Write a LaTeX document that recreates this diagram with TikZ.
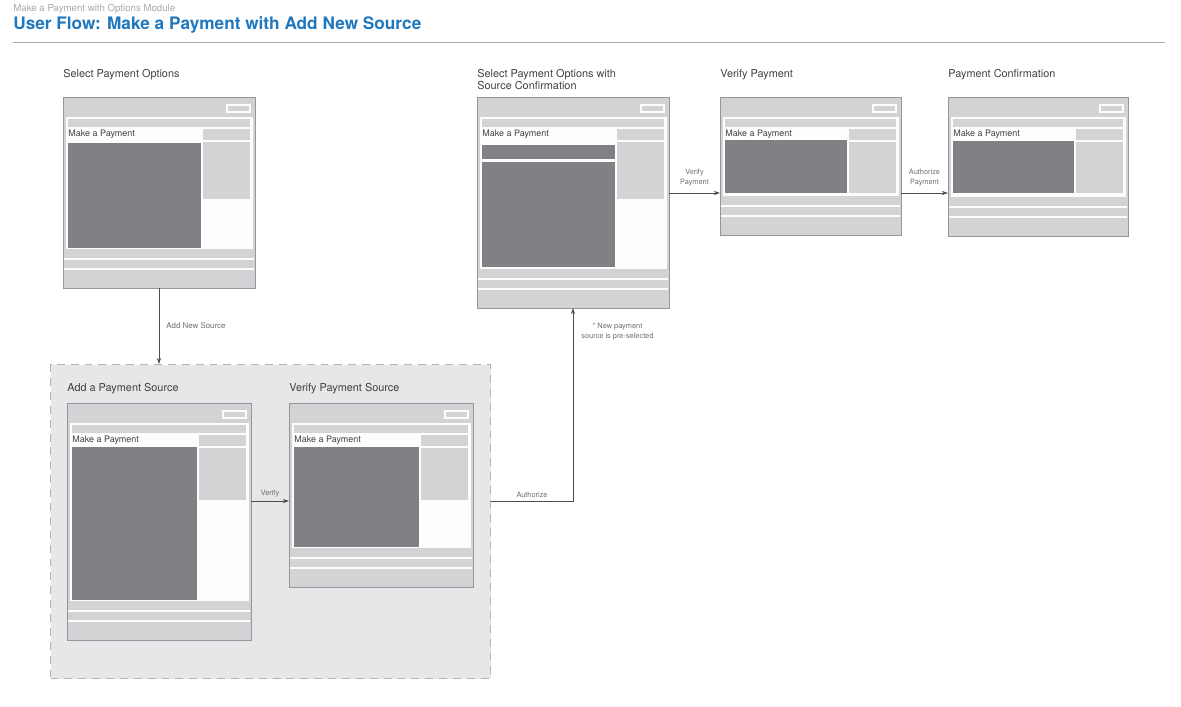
\documentclass[tikz,border=0pt]{standalone}
\usepackage{fontspec}
\setmainfont{TeX Gyre Heros}
\usepackage{tikz}
\usetikzlibrary{positioning,arrows.meta,calc}
\definecolor{flowblue}{HTML}{1F78BE}
\definecolor{headgray}{HTML}{A7A9AC}
\definecolor{rulegray}{HTML}{A6A8AB}
\definecolor{wflight}{HTML}{D1D3D4}
\definecolor{wfdark}{HTML}{808184}
\definecolor{wfwhite}{HTML}{FDFDFD}
\definecolor{wfborder}{HTML}{949699}
\definecolor{wfink}{HTML}{414042}
\definecolor{lblgray}{HTML}{6D6E71}
\definecolor{arrowgray}{HTML}{4D4D4F}
\definecolor{grpfill}{HTML}{E6E7E8}
\definecolor{grpdash}{HTML}{B3B4B6}

% one wireframe screen: name, x, top, width, height, dark top, dark bottom, side bottom
\newcommand{\wireframe}[8]{%
  \node[screen, minimum width=#4*0.02cm, minimum height=#5*0.02cm] (#1) at (#2,#3) {};
  \begin{scope}[shift={(#1.north west)}]
    \fill[wfwhite] (2.5,20) rectangle (#4-2.5,#5-39);
    \fill[wflight] (5,22) rectangle (#4-5,30);
    \draw[wfwhite, line width=0.7pt, fill=wflight] (#4-28,8) rectangle (#4-5,15);
    \node[anchor=west, inner sep=0pt, text=wfink, font=\fontsize{5.1}{6}\selectfont] at (5,37) {Make a Payment};
    \fill[wflight] (#4-52,32) rectangle (#4-5,43);
    \fill[wflight] (#4-52,45) rectangle (#4-5,#8);
    \fill[wfdark] (5,#6) rectangle (#4-54,#7);
    \fill[wfwhite] (1,#5-30.3) rectangle (#4-1,#5-28);
    \fill[wfwhite] (1,#5-20.3) rectangle (#4-1,#5-18);
  \end{scope}
  \draw[wfborder, line width=0.4pt] (#1.north west) rectangle (#1.south east);
}

\begin{document}
\begin{tikzpicture}[
    x=0.02cm, y=-0.02cm,
    screen/.style={anchor=north west, inner sep=0pt, outer sep=0pt, fill=wflight, draw=wfborder, line width=0.4pt},
    scrtitle/.style={anchor=north west, inner sep=0pt, text=wfink, font=\fontsize{6.2}{6.3}\selectfont, align=left},
    lbl/.style={inner sep=0pt, text=lblgray, font=\fontsize{4.2}{5.7}\selectfont, align=center},
    flow/.style={-{Stealth[length=3.5pt,width=2.4pt]}, line width=0.5pt, draw=arrowgray},
    group/.style={anchor=north west, inner sep=0pt, fill=grpfill, draw=grpdash, line width=0.6pt, dash pattern=on 4.5pt off 3.4pt}
  ]
  \useasboundingbox (0,0) rectangle (1181,707);

  % heading
  \node[anchor=west, inner sep=0pt, text=headgray, font=\fontsize{5.5}{6}\selectfont] (head) at (13,9) {Make a Payment with Options Module};
  \node[anchor=west, inner sep=0pt, text=flowblue, font=\fontsize{9.8}{11}\selectfont\bfseries] (ttl) at (13,25) {User Flow: Make a Payment with Add New Source};
  \draw[rulegray, line width=0.5pt] (13,42) -- (1165,42);

  % top row
  \wireframe{opts}{63}{97}{192}{191}{46}{151}{102}
  \wireframe{conf}{477}{97}{192}{211}{65}{170}{102}
  \fill[wfdark] ([shift={(5,48)}]conf.north west) rectangle ([shift={(138,62)}]conf.north west);
  \wireframe{vpay}{720}{97}{181}{138}{43}{96}{96}
  \wireframe{done}{948}{97}{180}{139}{44}{96}{96}

  \node[scrtitle] (opts-t) at ([yshift=0.55cm]opts.north west) {Select Payment Options};
  \node[scrtitle] (conf-t) at ([yshift=0.55cm]conf.north west) {Select Payment Options with\\Source Confirmation};
  \node[scrtitle] (vpay-t) at ([yshift=0.55cm]vpay.north west) {Verify Payment};
  \node[scrtitle] (done-t) at ([yshift=0.55cm]done.north west) {Payment Confirmation};

  % add new source group
  \node[group, minimum width=440*0.02cm, minimum height=314*0.02cm] (grp) at (50,364) {};
  \wireframe{addsrc}{67}{403}{184}{237}{44}{197}{97}
  \wireframe{vsrc}{289}{403}{184}{184}{44}{144}{97}
  \node[scrtitle] (addsrc-t) at ([yshift=0.39cm]addsrc.north west) {Add a Payment Source};
  \node[scrtitle] (vsrc-t) at ([yshift=0.39cm]vsrc.north west) {Verify Payment Source};

  % connectors
  \coordinate (vfy) at ([yshift=0.41cm]addsrc.east);
  \coordinate (vp) at ([yshift=-0.54cm]vpay.west);

  \draw[flow] (opts.south) -- node[lbl, right=0.14cm, font=\fontsize{4.5}{5.5}\selectfont] {Add New Source} (opts.south |- grp.north);
  \draw[flow] (vfy) -- node[lbl, above=0.06cm] {Verify} (vfy -| vsrc.west);
  \draw[flow] (grp.east |- vfy) -- node[lbl, above=0.06cm] {Authorize} (conf.south |- vfy)
    -- node[lbl, pos=0.88, right=0.16cm] {* New payment\\source is pre-selected} (conf.south);
  \draw[flow] (conf.east |- vp) -- node[lbl, above=0.12cm] {Verify\\Payment} (vp);
  \draw[flow] (vpay.east |- vp) -- node[lbl, above=0.12cm] {Authorize\\Payment} (done.west |- vp);
\end{tikzpicture}
\end{document}
